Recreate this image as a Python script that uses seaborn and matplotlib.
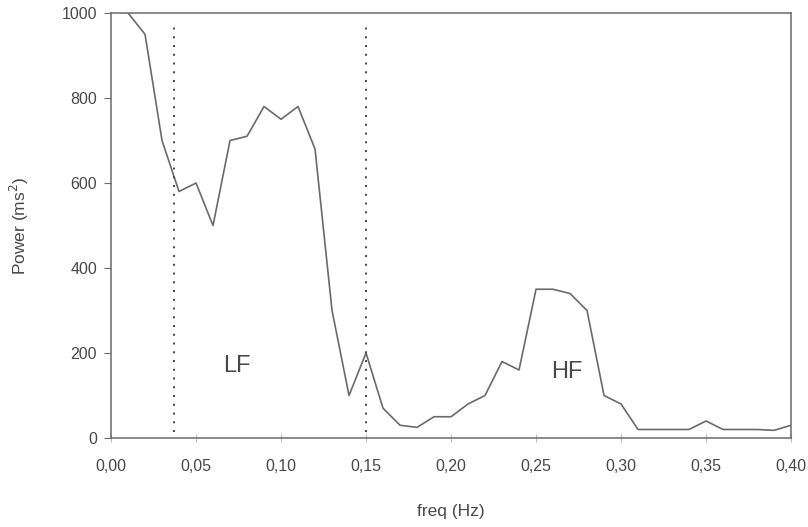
import matplotlib
matplotlib.use("Agg")
import matplotlib.pyplot as plt
import seaborn as sns
import pandas as pd

freq = [0.01, 0.02, 0.03, 0.04, 0.05, 0.06, 0.07, 0.08, 0.09, 0.10,
        0.11, 0.12, 0.13, 0.14, 0.15, 0.16, 0.17, 0.18, 0.19, 0.20,
        0.21, 0.22, 0.23, 0.24, 0.25, 0.26, 0.27, 0.28, 0.29, 0.30,
        0.31, 0.32, 0.33, 0.34, 0.35, 0.36, 0.37, 0.38, 0.39, 0.40]
power = [1000, 950, 700, 580, 600, 500, 700, 710, 780, 750,
         780, 680, 300, 100, 200, 70, 30, 25, 50, 50,
         80, 100, 180, 160, 350, 350, 340, 300, 100, 80,
         20, 20, 20, 20, 40, 20, 20, 20, 18, 30]
xticks = [0.00, 0.05, 0.10, 0.15, 0.20, 0.25, 0.30, 0.35, 0.40]
xticklabels = ["0,00", "0,05", "0,10", "0,15", "0,20", "0,25", "0,30", "0,35", "0,40"]
yticks = [0, 200, 400, 600, 800, 1000]
band_edges = [0.037, 0.15]
band_labels = ["LF", "HF"]
band_label_x = [0.074, 0.268]
band_label_y = [170, 155]

sns.set_style("white")
plt.rcParams['font.family'] = ['Liberation Sans', 'DejaVu Sans']

df = pd.DataFrame({"freq": freq, "power": power})
fig = plt.figure(figsize=(8.08, 5.27), dpi=100)
ax = fig.add_axes([0.1374, 0.1689, 0.979 - 0.1374, 0.9753 - 0.1689])
grey = "#6a6a6a"
txt = "#484848"
sns.lineplot(data=df, x="freq", y="power", ax=ax, color=grey, linewidth=1.2)
for e in band_edges:
    ax.vlines(e, 15, 975, colors="#444444", linestyles=(0, (1, 3.5)), linewidth=1.4)
for lbl, lx, ly in zip(band_labels, band_label_x, band_label_y):
    ax.text(lx, ly, lbl, fontsize=17, color=txt, ha="center", va="center")

ax.set_xlim(0, 0.40)
ax.set_ylim(0, 1000)
ax.set_xticks(xticks)
ax.set_xticklabels(xticklabels)
ax.set_yticks(yticks)
ax.tick_params(axis="both", labelsize=11.5, colors=txt)
ax.tick_params(axis="y", direction="out", length=5, color=grey, left=True, pad=5)
ax.tick_params(axis="x", direction="inout", length=6, color="#bbbbbb", bottom=True, pad=12)
for s in ax.spines.values():
    s.set_color(grey)
    s.set_linewidth(1.1)
ax.set_xlabel("freq (Hz)", fontsize=12.5, color=txt, labelpad=22)
ax.set_ylabel("Power (ms$^2$)", fontsize=12.5, color=txt, labelpad=22)
fig.savefig("out.png", dpi=100)
